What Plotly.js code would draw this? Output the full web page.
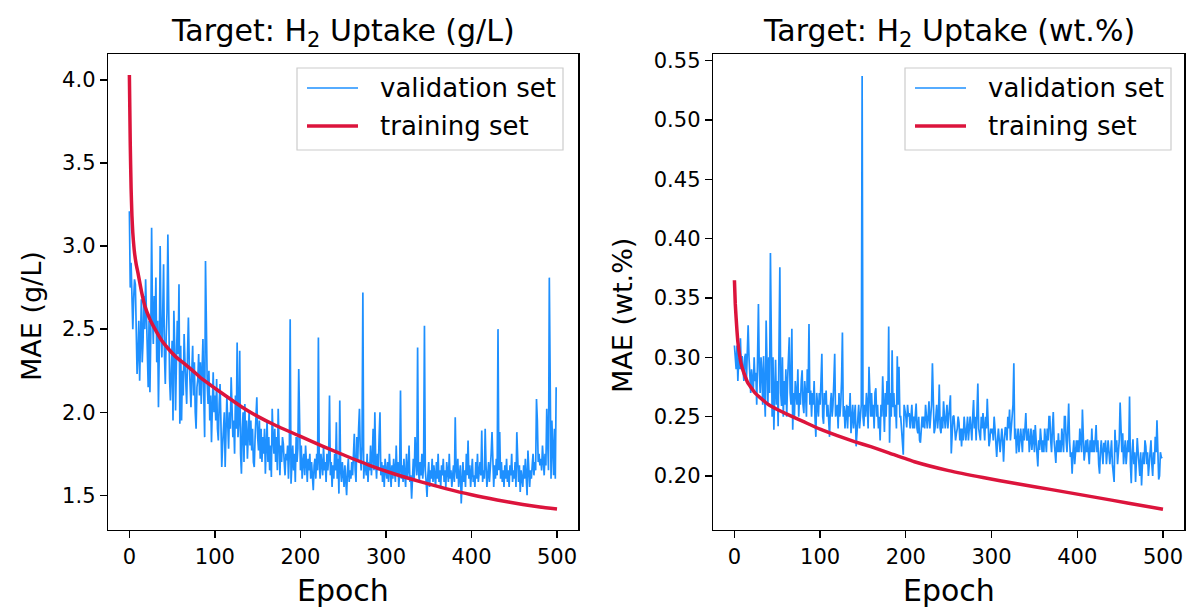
<!DOCTYPE html>
<html>
<head>
<meta charset="utf-8">
<script src="https://cdn.plot.ly/plotly-3.0.1.min.js"></script>
<style>html,body{margin:0;padding:0;background:#fff;}#chart{width:1191px;height:610px;}</style>
</head>
<body>
<div id="chart"></div>
<script>
// ---------- DATA ----------
const titleLeft = 'Target: H<sub>2</sub> Uptake (g/L)';
const titleRight = 'Target: H<sub>2</sub> Uptake (wt.%)';
const yTitleLeft = 'MAE (g/L)';
const yTitleRight = 'MAE (wt.%)';
const xTitle = 'Epoch';
const seriesNames = ['validation set', 'training set'];
const xTicks = [0, 100, 200, 300, 400, 500];
const yTicksLeft = [1.5, 2.0, 2.5, 3.0, 3.5, 4.0];
const yTicksRight = [0.20, 0.25, 0.30, 0.35, 0.40, 0.45, 0.50, 0.55];

// validation MAE (g/L), one value per epoch 0..499
const valGL = [
3.21,2.75,2.90,2.62,2.50,2.68,2.80,2.77,2.40,2.23,
2.35,2.55,2.19,2.45,2.68,2.30,2.43,2.70,2.50,2.80,
2.62,2.40,2.15,2.55,2.12,2.45,3.11,2.60,2.41,2.70,
2.50,2.81,2.30,2.55,2.03,2.40,3.00,2.50,2.33,2.60,
2.89,2.35,2.17,2.45,2.60,3.07,2.40,2.20,2.07,2.35,
2.43,1.95,2.61,2.40,2.01,2.30,2.55,2.35,2.77,1.93,
2.40,1.95,2.25,2.10,2.47,2.30,2.20,2.05,2.35,2.57,
2.30,2.15,2.03,2.25,2.40,2.10,2.30,2.00,1.90,2.15,
2.20,2.35,2.10,2.30,2.05,2.25,2.44,2.10,1.85,2.91,
2.30,2.17,2.05,2.25,1.95,2.10,1.82,2.15,2.24,2.00,
2.10,1.95,2.20,1.90,1.83,2.05,2.17,1.95,1.67,1.80,
1.95,2.00,1.67,1.90,2.10,1.93,1.78,2.00,1.90,2.21,
2.05,1.85,1.95,1.75,2.10,1.90,2.42,1.85,1.95,2.37,
1.75,1.63,1.90,2.00,1.70,2.05,1.80,1.95,1.72,1.90,
2.00,1.80,1.95,1.77,1.90,1.70,1.67,1.85,1.95,2.09,
1.85,1.77,1.95,1.72,1.90,1.70,1.85,1.75,1.90,1.63,
1.80,1.95,1.70,1.85,1.65,1.80,1.61,2.02,1.85,1.75,
1.90,1.70,1.85,1.65,2.02,1.75,1.62,1.80,1.70,1.85,
1.81,1.70,1.62,1.75,1.71,1.80,1.60,1.75,2.56,1.57,
1.70,1.80,1.65,1.75,1.58,1.85,1.70,1.78,2.26,1.75,
1.65,1.80,1.60,1.70,1.75,1.62,1.80,1.70,1.58,1.72,
1.65,1.75,1.60,1.70,1.58,1.53,1.68,1.72,1.60,1.75,
1.65,2.45,1.70,1.60,1.75,1.67,1.62,1.80,1.65,1.70,
1.58,1.75,1.65,1.72,2.10,1.62,1.70,1.55,1.68,1.60,
1.75,1.65,1.94,1.60,1.72,1.51,2.07,1.65,1.58,1.70,
1.62,1.55,1.68,1.60,1.50,1.65,1.72,1.58,1.65,1.60,
1.70,1.62,1.75,1.87,1.65,1.58,1.85,1.70,1.90,2.02,
1.75,1.65,1.80,2.72,1.60,1.70,1.68,1.62,1.75,1.58,
1.70,1.65,1.80,1.62,1.72,1.90,1.65,2.00,1.70,1.60,
1.75,1.65,1.85,2.00,1.62,1.70,1.58,1.68,1.55,1.72,
1.65,1.60,1.70,1.58,1.75,1.62,1.55,1.68,1.60,1.72,
1.65,1.58,1.80,1.62,1.70,1.55,1.65,2.13,1.60,1.68,
1.58,1.72,1.62,1.55,1.75,1.60,1.65,1.80,1.58,1.62,
1.48,1.65,1.72,1.60,1.85,1.70,1.62,2.39,1.65,1.58,
1.70,1.62,1.75,1.60,1.68,2.52,1.65,1.58,1.49,1.62,
1.70,1.55,1.65,1.60,1.72,1.58,1.68,1.62,1.55,1.70,
1.60,1.75,1.58,1.65,1.55,1.68,1.62,1.72,1.58,1.65,
1.55,1.70,1.62,1.58,1.75,1.60,1.65,1.55,1.62,1.68,
1.58,1.97,1.65,1.60,1.72,1.55,1.62,1.68,1.45,1.60,
1.70,1.58,1.65,1.55,1.75,1.62,1.83,1.60,1.68,1.55,
1.65,1.72,1.58,1.62,1.55,1.70,1.60,1.75,1.58,1.65,
1.70,1.62,1.89,1.58,1.65,1.60,1.90,1.68,1.55,1.62,
1.70,1.58,1.65,1.75,1.88,1.62,1.55,1.68,1.60,1.72,
1.62,2.50,1.65,1.88,1.60,1.70,1.58,1.65,1.55,1.68,
1.60,1.72,1.58,1.65,1.55,1.68,1.62,1.75,1.58,1.65,
1.60,1.70,1.55,1.88,1.62,1.58,1.68,1.52,1.65,1.60,
1.55,1.68,1.60,1.72,1.58,1.50,1.77,1.62,1.55,1.65,
1.60,1.68,1.75,1.62,1.70,1.65,2.08,1.95,1.70,1.75,
1.68,1.72,1.65,1.80,1.70,1.62,1.75,1.68,2.02,1.70,
1.65,2.81,1.95,1.60,1.95,1.75,1.62,1.90,1.60,2.15
];

// training MAE (g/L) at selected epochs
const trainEpochsGL = [0,1,2,3,4,6,8,10,14,18,24,30,38,45,55,65,73,85,100,115,131,150,170,200,225,250,280,310,340,370,400,430,460,480,500];
const trainGL = [4.03,3.62,3.35,3.18,3.08,2.96,2.89,2.84,2.73,2.64,2.56,2.50,2.43,2.385,2.33,2.29,2.255,2.20,2.144,2.09,2.033,1.975,1.923,1.854,1.798,1.744,1.682,1.628,1.582,1.540,1.503,1.472,1.445,1.430,1.418];

// validation MAE (wt.%), one value per epoch 0..499
const valWT = [
0.310,0.300,0.290,0.310,0.280,0.300,0.290,0.316,0.290,0.301,
0.290,0.280,0.300,0.303,0.280,0.310,0.327,0.300,0.285,0.270,
0.290,0.280,0.271,0.300,0.280,0.287,0.260,0.300,0.345,0.290,
0.270,0.300,0.287,0.260,0.301,0.270,0.250,0.331,0.280,0.260,
0.300,0.270,0.388,0.280,0.250,0.300,0.239,0.270,0.298,0.260,
0.280,0.242,0.300,0.376,0.270,0.259,0.300,0.250,0.280,0.260,
0.290,0.250,0.280,0.300,0.317,0.270,0.260,0.324,0.239,0.270,
0.250,0.280,0.270,0.260,0.290,0.250,0.270,0.260,0.280,0.289,
0.260,0.253,0.280,0.270,0.250,0.290,0.270,0.328,0.260,0.272,
0.250,0.270,0.260,0.280,0.250,0.233,0.270,0.260,0.250,0.270,
0.260,0.280,0.303,0.250,0.244,0.270,0.260,0.272,0.250,0.260,
0.240,0.233,0.260,0.270,0.250,0.260,0.280,0.303,0.250,0.253,
0.260,0.240,0.270,0.250,0.260,0.280,0.321,0.250,0.259,0.240,
0.253,0.260,0.240,0.259,0.250,0.270,0.236,0.250,0.260,0.240,
0.250,0.260,0.225,0.240,0.250,0.260,0.240,0.250,0.260,0.537,
0.250,0.242,0.260,0.250,0.270,0.260,0.240,0.292,0.260,0.250,
0.270,0.250,0.260,0.240,0.270,0.274,0.250,0.260,0.240,0.250,
0.230,0.260,0.250,0.284,0.260,0.237,0.270,0.250,0.280,0.260,
0.326,0.228,0.270,0.250,0.306,0.258,0.270,0.250,0.260,0.240,
0.301,0.260,0.292,0.250,0.250,0.240,0.230,0.218,0.260,0.256,
0.250,0.241,0.260,0.250,0.253,0.240,0.250,0.260,0.240,0.250,
0.240,0.250,0.261,0.240,0.236,0.250,0.230,0.228,0.240,0.250,
0.241,0.250,0.240,0.260,0.250,0.240,0.250,0.263,0.240,0.250,
0.260,0.295,0.250,0.236,0.240,0.250,0.260,0.240,0.250,0.277,
0.240,0.236,0.250,0.240,0.263,0.250,0.240,0.250,0.260,0.240,
0.250,0.260,0.268,0.219,0.240,0.250,0.251,0.240,0.230,0.236,
0.240,0.250,0.245,0.230,0.240,0.225,0.240,0.230,0.250,0.240,
0.230,0.240,0.250,0.230,0.240,0.250,0.240,0.230,0.250,0.264,
0.240,0.250,0.230,0.250,0.278,0.240,0.236,0.230,0.250,0.240,
0.253,0.240,0.230,0.250,0.240,0.265,0.240,0.225,0.230,0.240,
0.236,0.240,0.230,0.250,0.240,0.220,0.216,0.230,0.240,0.230,
0.220,0.230,0.240,0.230,0.212,0.230,0.241,0.240,0.230,0.250,
0.240,0.256,0.230,0.240,0.250,0.260,0.295,0.231,0.240,0.219,
0.230,0.240,0.220,0.230,0.240,0.230,0.220,0.240,0.230,0.240,
0.253,0.230,0.231,0.240,0.220,0.230,0.240,0.222,0.230,0.239,
0.220,0.243,0.230,0.220,0.208,0.230,0.222,0.240,0.230,0.220,
0.230,0.220,0.240,0.230,0.220,0.240,0.230,0.250,0.250,0.230,
0.220,0.240,0.254,0.230,0.220,0.211,0.230,0.220,0.236,0.220,
0.230,0.220,0.240,0.230,0.220,0.250,0.250,0.230,0.220,0.240,
0.261,0.230,0.216,0.220,0.202,0.220,0.230,0.210,0.220,0.230,
0.220,0.230,0.220,0.240,0.230,0.220,0.256,0.230,0.213,0.220,
0.230,0.220,0.231,0.220,0.210,0.230,0.220,0.240,0.220,0.230,
0.220,0.230,0.243,0.220,0.230,0.210,0.202,0.220,0.230,0.220,
0.210,0.228,0.220,0.230,0.210,0.220,0.230,0.220,0.210,0.220,
0.230,0.210,0.200,0.195,0.239,0.220,0.230,0.210,0.220,0.230,
0.262,0.230,0.220,0.236,0.210,0.220,0.230,0.210,0.220,0.230,
0.220,0.267,0.210,0.194,0.220,0.231,0.210,0.220,0.195,0.210,
0.232,0.220,0.210,0.200,0.220,0.192,0.210,0.220,0.210,0.230,
0.225,0.210,0.220,0.200,0.210,0.220,0.230,0.210,0.200,0.220,
0.210,0.233,0.220,0.247,0.210,0.197,0.200,0.220,0.216,0.215
];

// training MAE (wt.%) at selected epochs
const trainEpochsWT = [0,1,2,3,4,6,8,10,13,16,20,24,30,40,50,60,80,100,120,140,160,180,210,250,290,330,370,420,460,500];
const trainWT = [0.365,0.345,0.333,0.322,0.313,0.302,0.294,0.289,0.283,0.278,0.274,0.270,0.266,0.260,0.256,0.2525,0.246,0.2395,0.234,0.229,0.2245,0.2195,0.212,0.2045,0.1987,0.1935,0.1885,0.1822,0.1771,0.1720];

// ---------- CHART ----------
const VAL_COLOR = '#1E90FF', TRAIN_COLOR = '#DC143C';
const traces = [
  {x: valGL.map((_, i) => i), y: valGL, type:'scatter', mode:'lines', name: seriesNames[0], line:{color:VAL_COLOR, width:1.7}, xaxis:'x', yaxis:'y', showlegend:false},
  {x: trainEpochsGL, y: trainGL, type:'scatter', mode:'lines', name: seriesNames[1], line:{color:TRAIN_COLOR, width:3.5, shape:'spline', smoothing:0.5}, xaxis:'x', yaxis:'y', showlegend:false},
  {x: valWT.map((_, i) => i), y: valWT, type:'scatter', mode:'lines', name: seriesNames[0], line:{color:VAL_COLOR, width:1.7}, xaxis:'x2', yaxis:'y2', showlegend:false},
  {x: trainEpochsWT, y: trainWT, type:'scatter', mode:'lines', name: seriesNames[1], line:{color:TRAIN_COLOR, width:3.5, shape:'spline', smoothing:0.5}, xaxis:'x2', yaxis:'y2', showlegend:false}
];

const W = 1191, H = 610;
const px = v => v / W, py = v => 1 - v / H;
const axisCommon = {
  ticks:'outside', ticklen:7, tickwidth:1.3, tickcolor:'black',
  showline:true, mirror:true, linecolor:'black', linewidth:1.3,
  showgrid:false, zeroline:false, tickfont:{size:21, color:'black'},
  fixedrange:true
};
const dom = [py(530), py(54)];

// legend boxes (matplotlib style), built from the series names and colours
function legendParts(boxL, boxR) {
  const shapes = [
    {type:'rect', xref:'paper', yref:'paper', x0:px(boxL), x1:px(boxR), y0:py(150), y1:py(68), line:{color:'#cccccc', width:1.2}, fillcolor:'rgba(255,255,255,0.85)', layer:'above'},
    {type:'line', xref:'paper', yref:'paper', x0:px(boxL+10), x1:px(boxL+61), y0:py(88), y1:py(88), line:{color:VAL_COLOR, width:1.7}, layer:'above'},
    {type:'line', xref:'paper', yref:'paper', x0:px(boxL+10), x1:px(boxL+61), y0:py(126), y1:py(126), line:{color:TRAIN_COLOR, width:3.5}, layer:'above'}
  ];
  const anns = [
    {text:seriesNames[0], xref:'paper', yref:'paper', x:px(boxL+81), y:py(88), xanchor:'left', yanchor:'middle', showarrow:false, font:{size:26}},
    {text:seriesNames[1], xref:'paper', yref:'paper', x:px(boxL+81), y:py(126), xanchor:'left', yanchor:'middle', showarrow:false, font:{size:26}}
  ];
  return {shapes, anns};
}
const legL = legendParts(297, 563);
const legR = legendParts(905, 1171);

const layout = {
  width:W, height:H,
  margin:{l:0, r:0, t:0, b:0},
  paper_bgcolor:'white', plot_bgcolor:'white',
  font:{family:'DejaVu Sans, sans-serif', color:'black'},
  showlegend:false,
  xaxis: Object.assign({}, axisCommon, {domain:[px(108), px(578.4)], range:[-25,525], tickvals:xTicks, anchor:'y'}),
  yaxis: Object.assign({}, axisCommon, {domain:dom, range:[1.291,4.156], tickvals:yTicksLeft, tickformat:'.1f', anchor:'x'}),
  xaxis2: Object.assign({}, axisCommon, {domain:[px(713), px(1184.4)], range:[-25,525], tickvals:xTicks, anchor:'y2'}),
  yaxis2: Object.assign({}, axisCommon, {domain:dom, range:[0.1545,0.5556], tickvals:yTicksRight, tickformat:'.2f', anchor:'x2'}),
  shapes: legL.shapes.concat(legR.shapes),
  annotations:[
    {text:titleLeft, xref:'paper', yref:'paper', x:px(343), y:py(33), xanchor:'center', yanchor:'middle', showarrow:false, font:{size:30}},
    {text:titleRight, xref:'paper', yref:'paper', x:px(949), y:py(33), xanchor:'center', yanchor:'middle', showarrow:false, font:{size:30}},
    {text:xTitle, xref:'paper', yref:'paper', x:px(343), y:py(590), xanchor:'center', yanchor:'middle', showarrow:false, font:{size:30}},
    {text:xTitle, xref:'paper', yref:'paper', x:px(949), y:py(590), xanchor:'center', yanchor:'middle', showarrow:false, font:{size:30}},
    {text:yTitleLeft, xref:'paper', yref:'paper', x:px(31), y:py(316), xanchor:'center', yanchor:'middle', textangle:-90, showarrow:false, font:{size:27}},
    {text:yTitleRight, xref:'paper', yref:'paper', x:px(622), y:py(316), xanchor:'center', yanchor:'middle', textangle:-90, showarrow:false, font:{size:27}}
  ].concat(legL.anns, legR.anns)
};
Plotly.newPlot('chart', traces, layout, {staticPlot:true, displayModeBar:false});
</script>
</body>
</html>
